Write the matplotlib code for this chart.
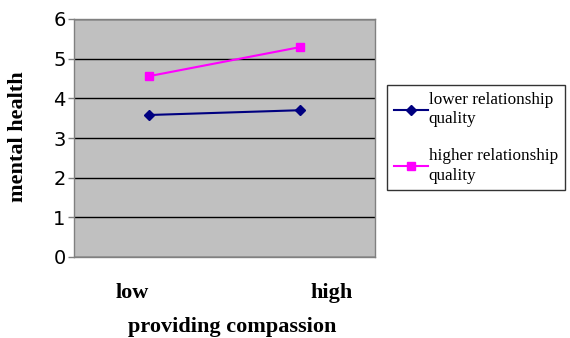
import numpy as np
import matplotlib.pyplot as plt

# cell means for the interaction plot
conditions = ['low', 'high']
lower_quality = [3.58, 3.70]
higher_quality = [4.56, 5.29]
series_names = ['lower relationship\nquality', 'higher relationship\nquality']

serif = ['Liberation Serif', 'DejaVu Serif']

fig = plt.figure(figsize=(5.7, 3.38), dpi=100)
ax = fig.add_axes([74 / 570, 1 - 257 / 338, 301 / 570, 238 / 338])
ax.set_facecolor('#c0c0c0')

x = np.arange(len(conditions))
ax.plot(x, lower_quality, color='#000080', marker='D', markersize=5, lw=1.5,
        label=series_names[0])
ax.plot(x, higher_quality, color='#ff00ff', marker='s', markersize=6, lw=1.5,
        label=series_names[1])

ax.set_xlim(-0.5, 1.5)
ax.set_ylim(0, 6)
ax.set_yticks(range(0, 7))
ax.yaxis.grid(True, color='black', lw=1)
ax.set_axisbelow(True)
ax.set_xticks([])
ax.tick_params(axis='y', labelsize=14, length=4, width=1, color='#808080', pad=2)
for s in ax.spines.values():
    s.set_color('#808080')
    s.set_linewidth(1)

# category labels sit a little off the data points
for xpos, lab in zip([0.193, 0.857], conditions):
    ax.text(xpos, -0.15, lab, transform=ax.transAxes, ha='center', va='center',
            fontsize=16, fontweight='bold', family=serif)

fig.text(232 / 570, 1 - 327 / 338, 'providing compassion', ha='center', va='center',
         fontsize=16, fontweight='bold', family=serif)
fig.text(18 / 570, 1 - 137 / 338, 'mental health', ha='center', va='center',
         rotation=90, fontsize=16, fontweight='bold', family=serif)

leg = fig.legend(loc='upper left', bbox_to_anchor=(387 / 570, 1 - 85 / 338),
                 prop={'family': serif, 'size': 12.3}, frameon=True, fancybox=False,
                 edgecolor='black', handlelength=2.0, handletextpad=0.05,
                 labelspacing=1.2, borderpad=0.4, borderaxespad=0)
leg.get_frame().set_linewidth(1)
for t in leg.get_texts():
    t.set_linespacing(1.3)

fig.savefig('out.png', dpi=100)
